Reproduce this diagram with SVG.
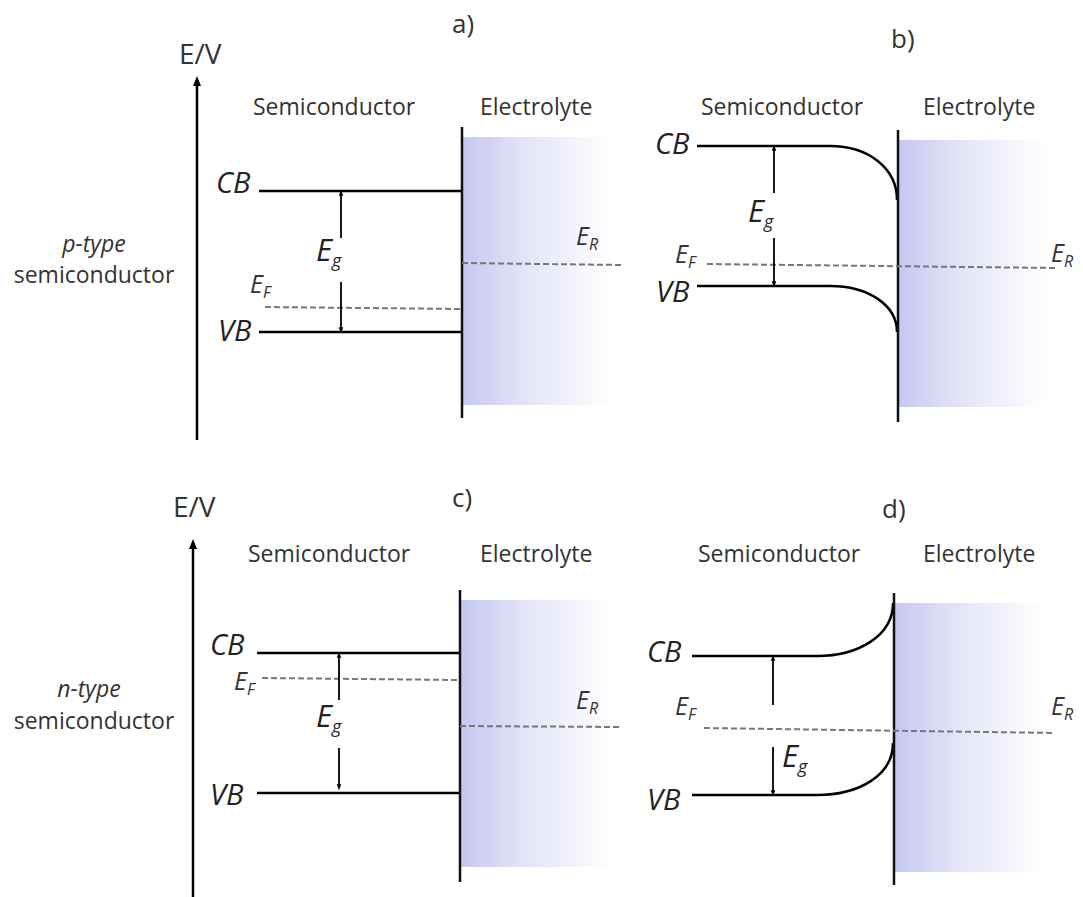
<svg xmlns="http://www.w3.org/2000/svg" width="1083" height="897" viewBox="0 0 1083 897">
<style>
.lbl{font-family:"Open Sans","Noto Sans",sans-serif;font-size:23px;fill:#333;}
.ev{font-size:28px;}
.pl{font-size:26px;}
.sym{font-family:"Open Sans","Noto Sans",sans-serif;font-style:italic;font-size:29px;fill:#222;}
.eg{font-family:"Open Sans","Noto Sans",sans-serif;font-style:italic;font-size:31px;fill:#222;}
.syms{font-family:"Open Sans","Noto Sans",sans-serif;font-style:italic;font-size:25px;fill:#333;}
.sub{font-size:18px;}
.subs{font-size:16px;}
.band{stroke:#000;stroke-width:2.5;fill:none;}
.iface{stroke:#111;stroke-width:2.5;}
.dash{stroke:#777;stroke-width:2;stroke-dasharray:6 3;fill:none;}
.arr{stroke:#000;stroke-width:1.8;marker-end:url(#ah);}
.axis{stroke:#000;stroke-width:2.5;marker-end:url(#axh);}
</style>
<defs>
<marker id="ah" markerWidth="6" markerHeight="8" refX="5" refY="3" orient="auto" markerUnits="userSpaceOnUse" viewBox="0 0 8 6">
<path d="M0,0 L8,3 L0,6 Z" fill="#000"/>
</marker>
<marker id="axh" markerWidth="10" markerHeight="8" refX="6" refY="4" orient="auto" markerUnits="userSpaceOnUse" viewBox="0 0 10 8">
<path d="M0,0 L10,4 L0,8 Z" fill="#000"/>
</marker>
<linearGradient id="elec" x1="0" y1="0" x2="1" y2="0">
<stop offset="0" stop-color="#c6c7f1"/>
<stop offset="0.4" stop-color="#e2e3f7"/>
<stop offset="1" stop-color="#ffffff"/>
</linearGradient>
</defs>

<g id="side-labels">
<text class="lbl" x="94" y="252" text-anchor="middle" font-style="italic" font-size="22">p-type</text>
<text class="lbl" x="94" y="283" text-anchor="middle">semiconductor</text>
<text class="lbl" x="89" y="697" text-anchor="middle" font-style="italic" font-size="22">n-type</text>
<text class="lbl" x="94" y="729" text-anchor="middle">semiconductor</text>
</g>

<g id="panel-a">
<text class="lbl ev" x="179" y="64">E/V</text>
<text class="lbl pl" x="452" y="33">a)</text>
<text class="lbl" x="253" y="115">Semiconductor</text>
<text class="lbl" x="480" y="115">Electrolyte</text>
<rect x="462" y="137" width="151" height="268" fill="url(#elec)"/>
<line class="band" x1="259" y1="191" x2="462" y2="191"/>
<line class="band" x1="259" y1="332" x2="462" y2="332"/>
<text class="sym" x="216" y="193">CB</text>
<text class="sym" x="218" y="341">VB</text>
<text class="eg" x="316" y="261">E<tspan class="sub" dy="6">g</tspan></text>
<text class="syms" x="250" y="293">E<tspan class="subs" dy="5">F</tspan></text>
<text class="syms" x="576" y="245">E<tspan class="subs" dy="5">R</tspan></text>
</g>

<g id="panel-b">
<text class="lbl pl" x="891" y="48">b)</text>
<text class="lbl" x="701" y="115">Semiconductor</text>
<text class="lbl" x="923" y="115">Electrolyte</text>
<rect x="898" y="140" width="149" height="267" fill="url(#elec)"/>
<path class="band" d="M697,146 H830 C868,146 897,168 897,200"/>
<path class="band" d="M697,286 H830 C868,286 897,305 897,332"/>
<text class="sym" x="655" y="154">CB</text>
<text class="sym" x="656" y="302">VB</text>
<text class="eg" x="748" y="222">E<tspan class="sub" dy="6">g</tspan></text>
<text class="syms" x="675" y="263">E<tspan class="subs" dy="5">F</tspan></text>
<text class="syms" x="1051" y="262">E<tspan class="subs" dy="5">R</tspan></text>
</g>

<g id="panel-c">
<text class="lbl ev" x="173" y="517">E/V</text>
<text class="lbl pl" x="452" y="507">c)</text>
<text class="lbl" x="248" y="562">Semiconductor</text>
<text class="lbl" x="480" y="562">Electrolyte</text>
<rect x="460" y="600" width="153" height="267" fill="url(#elec)"/>
<line class="band" x1="257" y1="653" x2="460" y2="653"/>
<line class="band" x1="257" y1="793" x2="460" y2="793"/>
<text class="sym" x="210" y="655">CB</text>
<text class="sym" x="210" y="805">VB</text>
<text class="eg" x="316" y="727">E<tspan class="sub" dy="6">g</tspan></text>
<text class="syms" x="234" y="690">E<tspan class="subs" dy="5">F</tspan></text>
<text class="syms" x="576" y="709">E<tspan class="subs" dy="5">R</tspan></text>
</g>

<g id="panel-d">
<text class="lbl pl" x="882" y="518">d)</text>
<text class="lbl" x="698" y="562">Semiconductor</text>
<text class="lbl" x="923" y="562">Electrolyte</text>
<rect x="894" y="603" width="151" height="269" fill="url(#elec)"/>
<path class="band" d="M692,656 H817 C858,656 893,636 893,603"/>
<path class="band" d="M692,795 H817 C858,795 893,776 893,743"/>
<text class="sym" x="647" y="662">CB</text>
<text class="sym" x="647" y="810">VB</text>
<text class="eg" x="782" y="767">E<tspan class="sub" dy="6">g</tspan></text>
<text class="syms" x="675" y="715">E<tspan class="subs" dy="5">F</tspan></text>
<text class="syms" x="1051" y="715">E<tspan class="subs" dy="5">R</tspan></text>
</g>

<g id="connectors">
<line class="axis" x1="197" y1="440" x2="197" y2="80"/>
<line class="axis" x1="193" y1="897" x2="193" y2="543"/>
<line class="iface" x1="462" y1="127" x2="462" y2="418"/>
<line class="iface" x1="898" y1="130" x2="898" y2="422"/>
<line class="iface" x1="460" y1="590" x2="460" y2="882"/>
<line class="iface" x1="894" y1="593" x2="894" y2="885"/>
<line class="dash" x1="265" y1="307" x2="462" y2="309"/>
<line class="dash" x1="462" y1="263" x2="622" y2="265"/>
<line class="dash" x1="707" y1="264" x2="1057" y2="268"/>
<line class="dash" x1="262" y1="678" x2="460" y2="680"/>
<line class="dash" x1="460" y1="726" x2="620" y2="727"/>
<line class="dash" x1="704" y1="728" x2="1055" y2="733"/>
<line class="arr" x1="341" y1="238" x2="341" y2="192"/>
<line class="arr" x1="341" y1="282" x2="341" y2="331"/>
<line class="arr" x1="774" y1="193" x2="774" y2="147"/>
<line class="arr" x1="774" y1="238" x2="774" y2="285"/>
<line class="arr" x1="339" y1="700" x2="339" y2="654"/>
<line class="arr" x1="339" y1="748" x2="339" y2="788"/>
<line class="arr" x1="773" y1="705" x2="773" y2="657"/>
<line class="arr" x1="773" y1="747" x2="773" y2="794"/>
</g>
</svg>
